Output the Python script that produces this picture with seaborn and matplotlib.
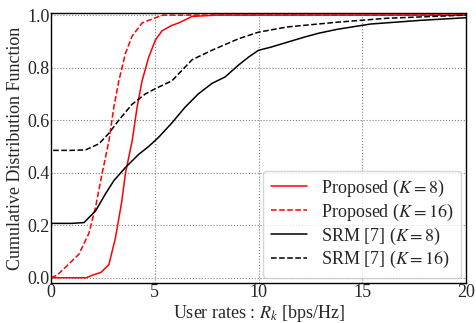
import matplotlib
matplotlib.use("Agg")
import matplotlib.pyplot as plt
import seaborn as sns
import pandas as pd

# Proposed (K=8)
prop8_x = [0, 1.0, 1.7, 2.0, 2.4, 2.79, 3.1, 3.41, 3.59, 3.91, 4.15, 4.39, 4.71, 5.03, 5.35, 5.8, 6.15, 6.8, 8, 20]
prop8_y = [0, 0, 0.0, 0.01, 0.02, 0.05, 0.15, 0.29, 0.40, 0.52, 0.65, 0.75, 0.84, 0.905, 0.94, 0.96, 0.97, 0.995, 1.0, 1.0]
# Proposed (K=16)
prop16_x = [0, 0.3, 0.7, 1.35, 1.83, 2.15, 2.47, 2.79, 3.03, 3.27, 3.59, 3.91, 4.39, 5.03, 5.4, 20]
prop16_y = [0, 0.01, 0.04, 0.09, 0.17, 0.27, 0.40, 0.52, 0.65, 0.75, 0.855, 0.92, 0.97, 0.99, 1.0, 1.0]
# SRM [7] (K=8)
srm8_x = [0, 0.0, 1.0, 1.59, 2.15, 2.63, 3.03, 3.59, 4.23, 4.71, 5.19, 5.83, 6.47, 7.1, 7.76, 8.4, 9.04, 9.52,
          10.0, 10.6, 11.4, 12.2, 12.9, 13.8, 15.4, 17.8, 20]
srm8_y = [0, 0.207, 0.207, 0.21, 0.255, 0.32, 0.37, 0.42, 0.47, 0.50, 0.535, 0.59, 0.65, 0.70, 0.74, 0.765, 0.81, 0.84,
          0.866, 0.878, 0.897, 0.916, 0.931, 0.946, 0.966, 0.98, 0.99]
# SRM [7] (K=16)
srm16_x = [0, 0.0, 1.0, 1.67, 2.31, 2.79, 3.27, 3.9, 4.55, 5.03, 5.83, 6.8, 7.75, 9.04, 10.0, 11.4, 13.8, 16.2, 20]
srm16_y = [0, 0.485, 0.485, 0.487, 0.51, 0.55, 0.60, 0.66, 0.70, 0.72, 0.75, 0.83, 0.866, 0.91, 0.935, 0.955, 0.973, 0.988, 1.0]

labels = [r"Proposed ($K=8$)", r"Proposed ($K=16$)", r"SRM [7] ($K=8$)", r"SRM [7] ($K=16$)"]

sns.set_theme(style="ticks")
plt.rcParams["font.family"] = ["Liberation Serif", "DejaVu Serif"]
plt.rcParams["mathtext.fontset"] = "stix"

FS = 13
fig = plt.figure(figsize=(4.76, 3.23), dpi=100)
ax = fig.add_axes([51/476, 1-283/323, (466-51)/476, (283-13)/323])

series = [(prop8_x, prop8_y, "red", "-"), (prop16_x, prop16_y, "red", "--"),
          (srm8_x, srm8_y, "black", "-"), (srm16_x, srm16_y, "black", "--")]
for (xs, ys, c, ls), lab in zip(series, labels):
    df = pd.DataFrame({"x": xs, "y": ys})
    sns.lineplot(data=df, x="x", y="y", ax=ax, color=c, linestyle=ls, lw=1.1, label=lab,
                 sort=False, estimator=None)

ax.set_xlim(0, 20)
ax.set_ylim(-0.02, 1.008)
ax.set_xticks([0, 5, 10, 15, 20])
ax.set_yticks([0, 0.2, 0.4, 0.6, 0.8, 1.0])
ax.set_yticklabels(["0.0", "0.2", "0.4", "0.6", "0.8", "1.0"])
ax.grid(True, linestyle=":", color="gray", lw=0.8)
ax.tick_params(direction="in", length=0, labelsize=FS, pad=1)
for s in ax.spines.values():
    s.set_color("black")
    s.set_linewidth(1.0)
ax.set_xlabel(r"User rates : $R_k$ [bps/Hz]", fontsize=FS, labelpad=1)
ax.set_ylabel("Cumulative Distribution Function", fontsize=FS, labelpad=2)
leg = ax.legend(loc="lower right", fontsize=FS, frameon=True, fancybox=True,
                handlelength=2.0, borderaxespad=0.3, labelspacing=0.15, handletextpad=0.8)
leg.get_frame().set_edgecolor("#cccccc")
fig.savefig("out.png", dpi=100)
